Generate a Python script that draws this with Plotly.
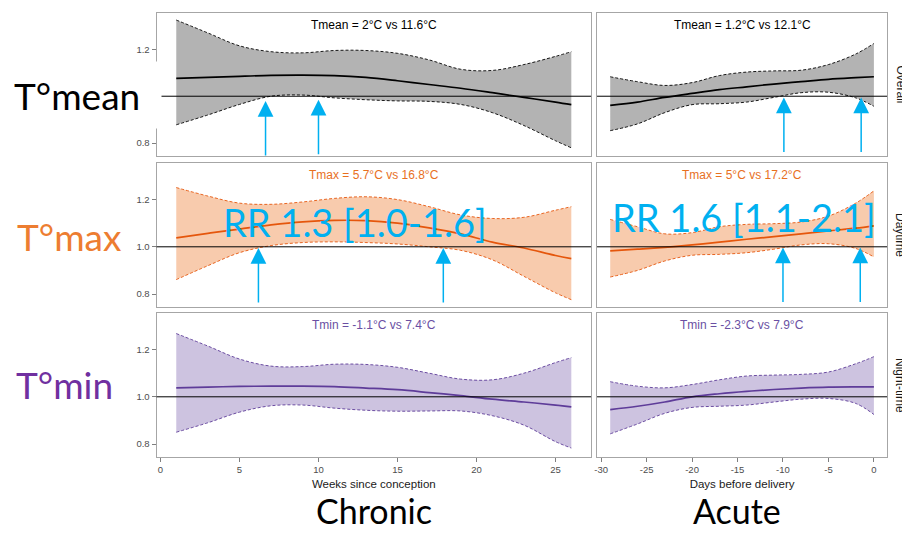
import plotly.graph_objects as go

# ---------------- data ----------------
weeks = [1, 3, 5, 7, 9, 11, 13, 15, 17, 19, 21, 23, 25, 26]
days = [-29, -26, -23, -20, -17, -14, -11, -8, -5, -2, 0]

tmean_chr_est = [1.076, 1.080, 1.085, 1.089, 1.090, 1.088, 1.080, 1.066, 1.050, 1.034, 1.015, 0.995, 0.975, 0.964]
tmean_chr_hi = [1.325, 1.270, 1.215, 1.190, 1.185, 1.195, 1.195, 1.183, 1.155, 1.115, 1.110, 1.135, 1.170, 1.190]
tmean_chr_lo = [0.878, 0.920, 0.965, 1.000, 1.005, 0.993, 0.985, 0.980, 0.978, 0.965, 0.930, 0.875, 0.810, 0.780]

tmean_ac_est = [0.961, 0.975, 0.995, 1.012, 1.028, 1.040, 1.052, 1.062, 1.072, 1.079, 1.083]
tmean_ac_hi = [1.083, 1.062, 1.046, 1.058, 1.088, 1.103, 1.108, 1.111, 1.135, 1.180, 1.225]
tmean_ac_lo = [0.853, 0.882, 0.930, 0.964, 0.968, 0.975, 0.995, 1.015, 1.017, 0.993, 0.957]

tmax_chr_est = [1.038, 1.057, 1.075, 1.093, 1.106, 1.112, 1.111, 1.100, 1.080, 1.055, 1.020, 0.995, 0.963, 0.950]
tmax_chr_hi = [1.251, 1.215, 1.185, 1.180, 1.190, 1.205, 1.212, 1.200, 1.170, 1.135, 1.120, 1.125, 1.155, 1.170]
tmax_chr_lo = [0.861, 0.920, 0.975, 1.005, 1.018, 1.021, 1.018, 1.012, 1.000, 0.985, 0.945, 0.875, 0.805, 0.776]

tmax_ac_est = [0.983, 0.990, 0.998, 1.008, 1.020, 1.032, 1.043, 1.055, 1.067, 1.079, 1.089]
tmax_ac_hi = [1.116, 1.085, 1.055, 1.060, 1.085, 1.095, 1.098, 1.105, 1.130, 1.185, 1.237]
tmax_ac_lo = [0.872, 0.900, 0.940, 0.964, 0.968, 0.975, 0.990, 1.008, 1.013, 0.993, 0.957]

tmin_chr_est = [1.038, 1.041, 1.044, 1.045, 1.045, 1.043, 1.037, 1.030, 1.018, 1.005, 0.990, 0.978, 0.965, 0.957]
tmin_chr_hi = [1.268, 1.215, 1.160, 1.130, 1.128, 1.138, 1.137, 1.125, 1.100, 1.075, 1.072, 1.100, 1.145, 1.166]
tmin_chr_lo = [0.850, 0.890, 0.935, 0.962, 0.965, 0.952, 0.943, 0.939, 0.940, 0.940, 0.920, 0.880, 0.810, 0.783]

tmin_ac_est = [0.946, 0.960, 0.978, 1.000, 1.013, 1.023, 1.031, 1.037, 1.041, 1.042, 1.042]
tmin_ac_hi = [1.064, 1.045, 1.038, 1.052, 1.072, 1.088, 1.092, 1.095, 1.105, 1.140, 1.170]
tmin_ac_lo = [0.843, 0.885, 0.930, 0.955, 0.960, 0.965, 0.978, 0.990, 0.993, 0.972, 0.925]

panel_titles = [
    ["Tmean = 2°C vs 11.6°C", "Tmean = 1.2°C vs 12.1°C"],
    ["Tmax = 5.7°C vs 16.8°C", "Tmax = 5°C vs 17.2°C"],
    ["Tmin = -1.1°C vs 7.4°C", "Tmin = -2.3°C vs 7.9°C"],
]
strip_labels = ["Overall", "Daytime", "Night-time"]
row_labels = ["T°mean", "T°max", "T°min"]
col_labels = ["Chronic", "Acute"]
x_titles = ["Weeks since conception", "Days before delivery"]
rr_texts = ["RR 1.3 [1.0-1.6]", "RR 1.6 [1.1-2.1]"]
x_tickvals = [[0, 5, 10, 15, 20, 25], [-30, -25, -20, -15, -10, -5, 0]]
x_ticktext = [["0", "5", "10", "15", "20", "25"], ["-30", "-25", "-20", "-15", "-10", "-5", "0"]]
y_tickvals = [0.8, 1.0, 1.2]
y_ticktext = ["0.8", "1.0", "1.2"]
# in the top-left panel the 1.0 tick is hidden behind the "T°mean" label box
y_tickvals_top = [0.8, 1.2]
y_ticktext_top = ["0.8", "1.2"]

# arrows (x position, tip value) per panel
arrows = {
    (0, 0): [(6.65, 0.98), (10.0, 0.985)],
    (0, 1): [(-9.9, 0.995), (-1.4, 0.995)],
    (1, 0): [(6.2, 0.995), (17.9, 0.995)],
    (1, 1): [(-10.0, 0.997), (-1.5, 0.997)],
}

# ---------------- styling ----------------
VW, VH = 910, 533
OFF = 8  # page body margin
W, H = VW - OFF, VH - OFF


def px(x):
    return (x - OFF) / W


def py(y):
    return 1 - (y - OFF) / H


line_cols = ["#000000", "#e5560c", "#5e3c99"]
fill_cols = ["#b3b3b3", "#f8cbad", "#cdc3e0"]
title_cols = ["#000000", "#e8701e", "#6a4fa3"]
label_cols = ["#000000", "#ED7D31", "#7030A0"]
ARROW = "#00B0F0"
BORDER = "#a6a6a6"

col_dom = [[px(154), px(590)], [px(596), px(887)]]
row_px = [(13, 156), (163, 307), (313, 457)]
row_dom = [[py(b), py(t)] for t, b in row_px]
x_ranges = [[-0.25, 27.25], [-30.45, 1.45]]
y_range = [0.745, 1.355]

series = [
    [(weeks, tmean_chr_est, tmean_chr_hi, tmean_chr_lo), (days, tmean_ac_est, tmean_ac_hi, tmean_ac_lo)],
    [(weeks, tmax_chr_est, tmax_chr_hi, tmax_chr_lo), (days, tmax_ac_est, tmax_ac_hi, tmax_ac_lo)],
    [(weeks, tmin_chr_est, tmin_chr_hi, tmin_chr_lo), (days, tmin_ac_est, tmin_ac_hi, tmin_ac_lo)],
]

fig = go.Figure()
layout = dict(width=W, height=H, margin=dict(l=0, r=0, t=0, b=0),
              paper_bgcolor="white", plot_bgcolor="white", showlegend=False,
              font=dict(family="Liberation Sans, Arial", size=12, color="#000000"))
annotations = []
shapes = []

for r in range(3):
    for c in range(2):
        n = r * 2 + c + 1
        xa = "x" if n == 1 else f"x{n}"
        ya = "y" if n == 1 else f"y{n}"
        xs, est, hi, lo = series[r][c]
        spline = dict(shape="spline", smoothing=1.0)
        fig.add_trace(go.Scatter(x=xs, y=hi, mode="lines", xaxis=xa, yaxis=ya,
                                 line=dict(color=line_cols[r], width=0.9, dash="3px,2px", **spline),
                                 hoverinfo="skip"))
        fig.add_trace(go.Scatter(x=xs, y=lo, mode="lines", xaxis=xa, yaxis=ya,
                                 fill="tonexty", fillcolor=fill_cols[r],
                                 line=dict(color=line_cols[r], width=0.9, dash="3px,2px", **spline),
                                 hoverinfo="skip"))
        fig.add_trace(go.Scatter(x=xs, y=est, mode="lines", xaxis=xa, yaxis=ya,
                                 line=dict(color=line_cols[r], width=1.7, **spline),
                                 hoverinfo="skip"))
        bottom = (r == 2)
        left = (c == 0)
        tv, tt = (y_tickvals_top, y_ticktext_top) if n == 1 else (y_tickvals, y_ticktext)
        layout["xaxis" if n == 1 else f"xaxis{n}"] = dict(
            domain=col_dom[c], anchor=ya, range=x_ranges[c], showgrid=False, zeroline=False,
            showline=True, mirror=True, linecolor=BORDER, linewidth=1,
            ticks="outside" if bottom else "", ticklen=4, tickcolor="#7f7f7f",
            showticklabels=bottom, tickvals=x_tickvals[c], ticktext=x_ticktext[c],
            tickfont=dict(size=9.5, color="#4d4d4d"),
            title=dict(text=x_titles[c] if bottom else "", font=dict(size=11.5, color="#1a1a1a"), standoff=5))
        layout["yaxis" if n == 1 else f"yaxis{n}"] = dict(
            domain=row_dom[r], anchor=xa, range=y_range, showgrid=False, zeroline=False,
            showline=True, mirror=True, linecolor=BORDER, linewidth=1,
            ticks="outside" if left else "", ticklen=4, tickcolor="#7f7f7f",
            showticklabels=left, tickvals=tv, ticktext=tt,
            tickfont=dict(size=9.5, color="#4d4d4d"))
        shapes.append(dict(type="line", xref=f"{xa} domain", yref=ya, x0=0, x1=1, y0=1, y1=1,
                           line=dict(color="#000000", width=1), layer="above"))
        annotations.append(dict(xref=f"{xa} domain", yref=f"{ya} domain", x=0.5, y=1,
                                yshift=-12, yanchor="middle", showarrow=False,
                                text=panel_titles[r][c],
                                font=dict(size=12, color=title_cols[r], family="Liberation Sans, Arial")))
        for (ax_x, tip) in arrows.get((r, c), []):
            annotations.append(dict(xref=xa, yref=ya, x=ax_x, y=tip, ax=0, ay=56, text="",
                                    showarrow=True, arrowhead=2, arrowsize=2.1, arrowwidth=1.5,
                                    arrowcolor=ARROW, standoff=0))

# strip labels at right
for r in range(3):
    t, b = row_px[r]
    annotations.append(dict(xref="paper", yref="paper", x=px(900), y=py((t + b) / 2),
                            text=strip_labels[r], textangle=90, showarrow=False,
                            xanchor="center", yanchor="middle",
                            font=dict(size=12, color="#1a1a1a", family="Liberation Sans, Arial")))

# big row labels (first one has a white box that masks the axis)
annotations.append(dict(xref="paper", yref="paper", x=px(0), y=py(95), xanchor="left", yanchor="middle",
                        text=row_labels[0], showarrow=False, align="left", width=137, height=46,
                        borderpad=10, bgcolor="white",
                        font=dict(family="Lato", size=37, color=label_cols[0])))
annotations.append(dict(xref="paper", yref="paper", x=px(66), y=py(236), xanchor="center", yanchor="middle",
                        text=row_labels[1], showarrow=False,
                        font=dict(family="Lato", size=37, color=label_cols[1])))
annotations.append(dict(xref="paper", yref="paper", x=px(62), y=py(384), xanchor="center", yanchor="middle",
                        text=row_labels[2], showarrow=False,
                        font=dict(family="Lato", size=37, color=label_cols[2])))

# RR texts
annotations.append(dict(xref="paper", yref="paper", x=px(353), y=py(222), xanchor="center", yanchor="middle",
                        text=rr_texts[0], showarrow=False, font=dict(family="Lato", size=38, color=ARROW)))
annotations.append(dict(xref="paper", yref="paper", x=px(743), y=py(217), xanchor="center", yanchor="middle",
                        text=rr_texts[1], showarrow=False, font=dict(family="Lato", size=38, color=ARROW)))

# column labels
annotations.append(dict(xref="paper", yref="paper", x=px(372), y=py(510), xanchor="center", yanchor="middle",
                        text=col_labels[0], showarrow=False, font=dict(family="Lato", size=34, color="#000000")))
annotations.append(dict(xref="paper", yref="paper", x=px(736), y=py(510), xanchor="center", yanchor="middle",
                        text=col_labels[1], showarrow=False, font=dict(family="Lato", size=34, color="#000000")))

layout["annotations"] = annotations
layout["shapes"] = shapes
fig.update_layout(**layout)
fig.write_html("out.html")
